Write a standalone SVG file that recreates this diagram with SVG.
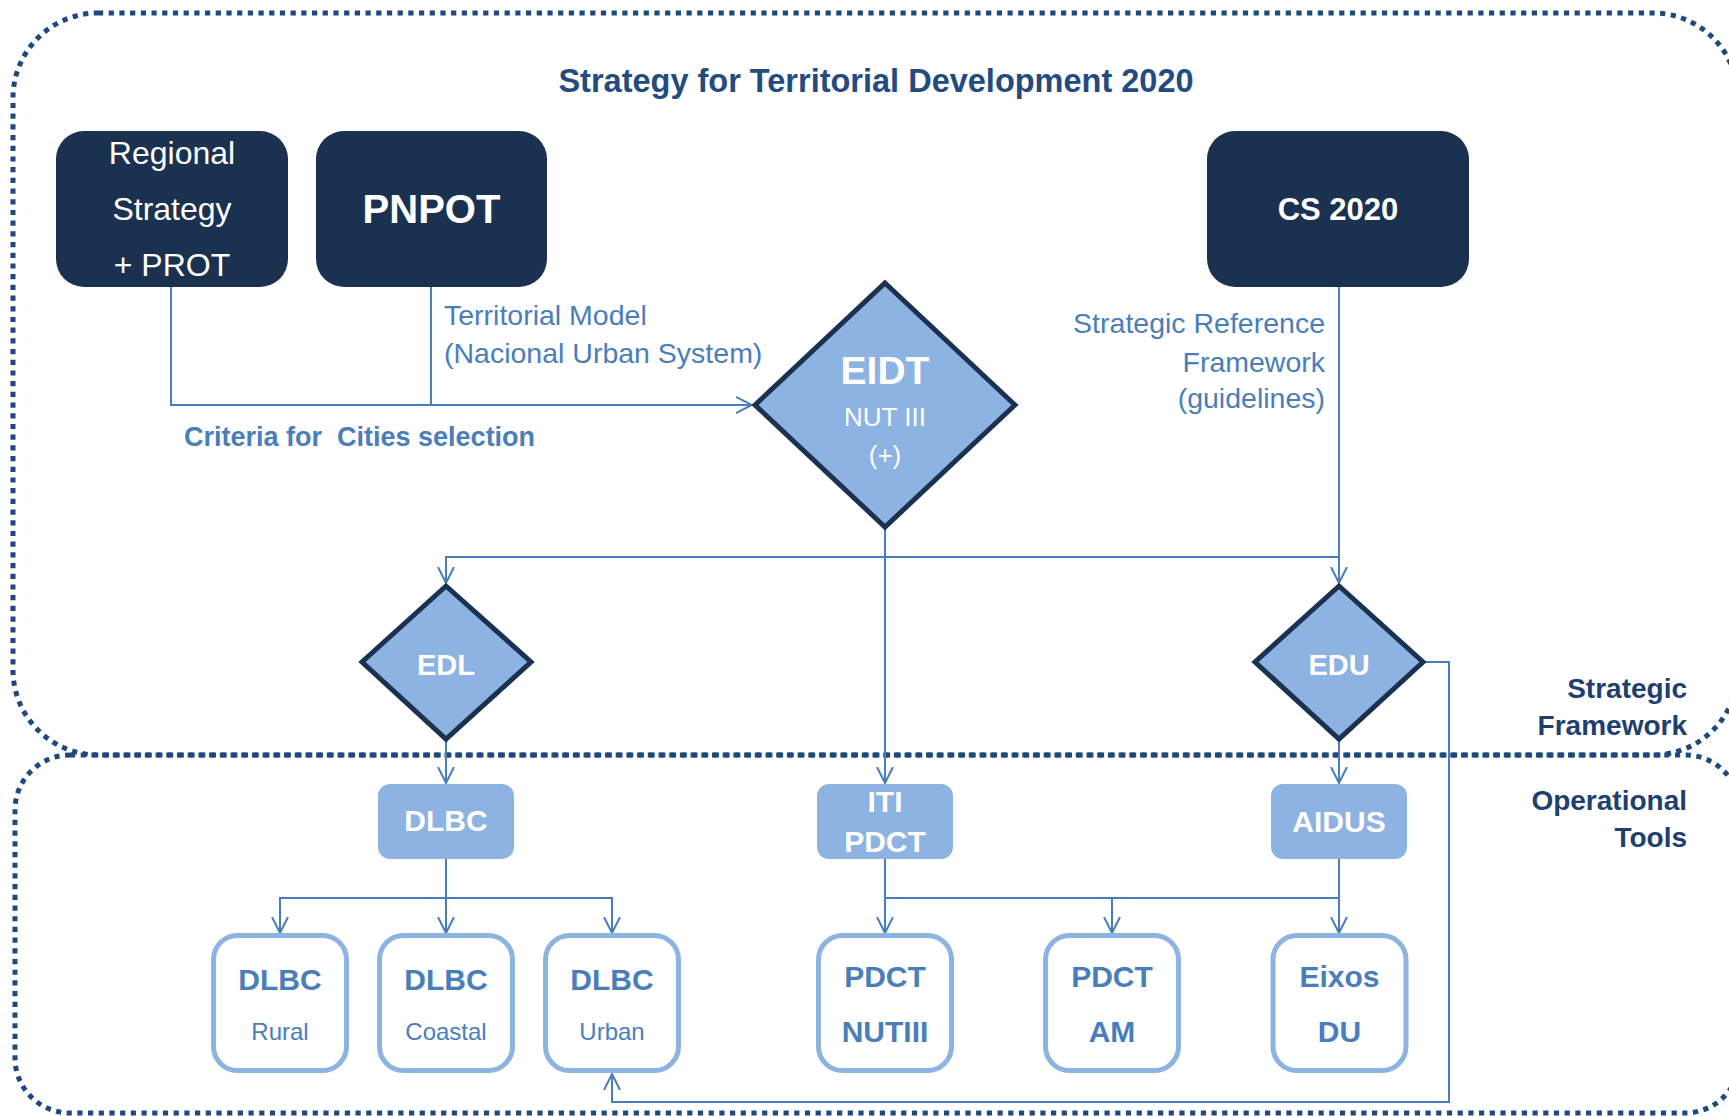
<svg xmlns="http://www.w3.org/2000/svg" width="1729" height="1116" viewBox="0 0 1729 1116">
<defs>
<style>
.region{fill:none;stroke:#1f497d;stroke-width:5;stroke-dasharray:5.2 5.5}
.navy{fill:#1b3150}
.dia{fill:#8db3e2;stroke:#1b3150;stroke-width:5}
.fbox{fill:#8db3e2}
.obox{fill:#ffffff;stroke:#8db3e2;stroke-width:5}
.conn{fill:none;stroke:#4a7ebb;stroke-width:2}
text{font-family:"Liberation Sans",Arial,sans-serif}
.w{fill:#ffffff}
.b{font-weight:bold}
.c{text-anchor:middle}
.e{text-anchor:end}
.lbl{fill:#4a7ebb;font-size:28.5px}
.side{fill:#1f3f6f;font-size:28px;font-weight:bold;text-anchor:end}
.otxt{fill:#4a7ebb;text-anchor:middle}
</style>
<marker id="arr" viewBox="0 0 18 18" refX="16" refY="9" markerWidth="18" markerHeight="18" markerUnits="userSpaceOnUse" orient="auto">
<path d="M0,1 L16,9 L0,17" fill="none" stroke="#4a7ebb" stroke-width="2"/>
</marker>
</defs>
<rect width="1729" height="1116" fill="#ffffff"/>

<g id="regions">
<rect class="region" x="13" y="13" width="1725" height="742" rx="85"/>
<rect class="region" x="15" y="755" width="1725" height="358" rx="55"/>
</g>

<g id="title">
<text x="876" y="92" class="c b" font-size="32.5" fill="#234b7f">Strategy for Territorial Development 2020</text>
</g>

<g id="connectors">
<path class="conn" d="M171,287 V405 H752" marker-end="url(#arr)"/>
<path class="conn" d="M431,287 V405"/>
<path class="conn" d="M1339,287 V583" marker-end="url(#arr)"/>
<path class="conn" d="M885,527 V557 H446 V583" marker-end="url(#arr)"/>
<path class="conn" d="M885,557 H1339"/>
<path class="conn" d="M885,527 V783" marker-end="url(#arr)"/>
<path class="conn" d="M446,739 V783" marker-end="url(#arr)"/>
<path class="conn" d="M1339,739 V783" marker-end="url(#arr)"/>
<path class="conn" d="M1423,662 H1449 V1102 H612 V1074" marker-end="url(#arr)"/>
<path class="conn" d="M446,859 V933" marker-end="url(#arr)"/>
<path class="conn" d="M446,898 H280 V933" marker-end="url(#arr)"/>
<path class="conn" d="M446,898 H612 V933" marker-end="url(#arr)"/>
<path class="conn" d="M885,859 V933" marker-end="url(#arr)"/>
<path class="conn" d="M885,898 H1339"/>
<path class="conn" d="M1112,898 V933" marker-end="url(#arr)"/>
<path class="conn" d="M1339,859 V933" marker-end="url(#arr)"/>
</g>

<g id="labels">
<text class="lbl" x="444" y="325">Territorial Model</text>
<text class="lbl" x="444" y="363">(Nacional Urban System)</text>
<text x="184" y="446" font-size="27" font-weight="bold" fill="#4a7ebb" xml:space="preserve">Criteria for  Cities selection</text>
<text class="lbl e" x="1325" y="333">Strategic Reference</text>
<text class="lbl e" x="1325" y="372">Framework</text>
<text class="lbl e" x="1325" y="408">(guidelines)</text>
<text class="side" x="1687" y="698">Strategic</text>
<text class="side" x="1687" y="735">Framework</text>
<text class="side" x="1687" y="810">Operational</text>
<text class="side" x="1687" y="847">Tools</text>
</g>

<g id="node-regional">
<rect class="navy" x="56" y="131" width="232" height="156" rx="28"/>
<text class="w c" x="172" y="164" font-size="32">Regional</text>
<text class="w c" x="172" y="220" font-size="32">Strategy</text>
<text class="w c" x="172" y="276" font-size="32">+ PROT</text>
</g>
<g id="node-pnpot">
<rect class="navy" x="316" y="131" width="231" height="156" rx="28"/>
<text class="w c b" x="431.5" y="223" font-size="40">PNPOT</text>
</g>
<g id="node-cs2020">
<rect class="navy" x="1207" y="131" width="262" height="156" rx="28"/>
<text class="w c b" x="1338" y="220" font-size="31">CS 2020</text>
</g>

<g id="node-eidt">
<polygon class="dia" points="885,283 1015,405 885,527 755,405"/>
<text class="w c b" x="885" y="384" font-size="39">EIDT</text>
<text class="w c" x="885" y="426" font-size="26">NUT III</text>
<text class="w c" x="885" y="464" font-size="26">(+)</text>
</g>
<g id="node-edl">
<polygon class="dia" points="446,586 531,662 446,739 362,662"/>
<text class="w c b" x="446" y="675" font-size="29">EDL</text>
</g>
<g id="node-edu">
<polygon class="dia" points="1339,586 1423,662 1339,739 1255,662"/>
<text class="w c b" x="1339" y="675" font-size="29">EDU</text>
</g>

<g id="node-dlbc">
<rect class="fbox" x="378" y="784" width="136" height="75" rx="12"/>
<text class="w c b" x="446" y="831" font-size="30">DLBC</text>
</g>
<g id="node-iti-pdct">
<rect class="fbox" x="817" y="784" width="136" height="75" rx="12"/>
<text class="w c b" x="885" y="812" font-size="30">ITI</text>
<text class="w c b" x="885" y="852" font-size="30">PDCT</text>
</g>
<g id="node-aidus">
<rect class="fbox" x="1271" y="784" width="136" height="75" rx="12"/>
<text class="w c b" x="1339" y="832" font-size="30">AIDUS</text>
</g>

<g id="node-dlbc-rural">
<rect class="obox" x="213.5" y="935.5" width="133" height="135" rx="24"/>
<text class="otxt b" x="280" y="990" font-size="30">DLBC</text>
<text class="otxt" x="280" y="1040" font-size="24">Rural</text>
</g>
<g id="node-dlbc-coastal">
<rect class="obox" x="379.5" y="935.5" width="133" height="135" rx="24"/>
<text class="otxt b" x="446" y="990" font-size="30">DLBC</text>
<text class="otxt" x="446" y="1040" font-size="24">Coastal</text>
</g>
<g id="node-dlbc-urban">
<rect class="obox" x="545.5" y="935.5" width="133" height="135" rx="24"/>
<text class="otxt b" x="612" y="990" font-size="30">DLBC</text>
<text class="otxt" x="612" y="1040" font-size="24">Urban</text>
</g>
<g id="node-pdct-nutiii">
<rect class="obox" x="818.5" y="935.5" width="133" height="135" rx="24"/>
<text class="otxt b" x="885" y="987" font-size="30">PDCT</text>
<text class="otxt b" x="885" y="1042" font-size="30">NUTIII</text>
</g>
<g id="node-pdct-am">
<rect class="obox" x="1045.5" y="935.5" width="133" height="135" rx="24"/>
<text class="otxt b" x="1112" y="987" font-size="30">PDCT</text>
<text class="otxt b" x="1112" y="1042" font-size="30">AM</text>
</g>
<g id="node-eixos-du">
<rect class="obox" x="1273" y="935.5" width="133" height="135" rx="24"/>
<text class="otxt b" x="1339.5" y="987" font-size="30">Eixos</text>
<text class="otxt b" x="1339.5" y="1042" font-size="30">DU</text>
</g>
</svg>
